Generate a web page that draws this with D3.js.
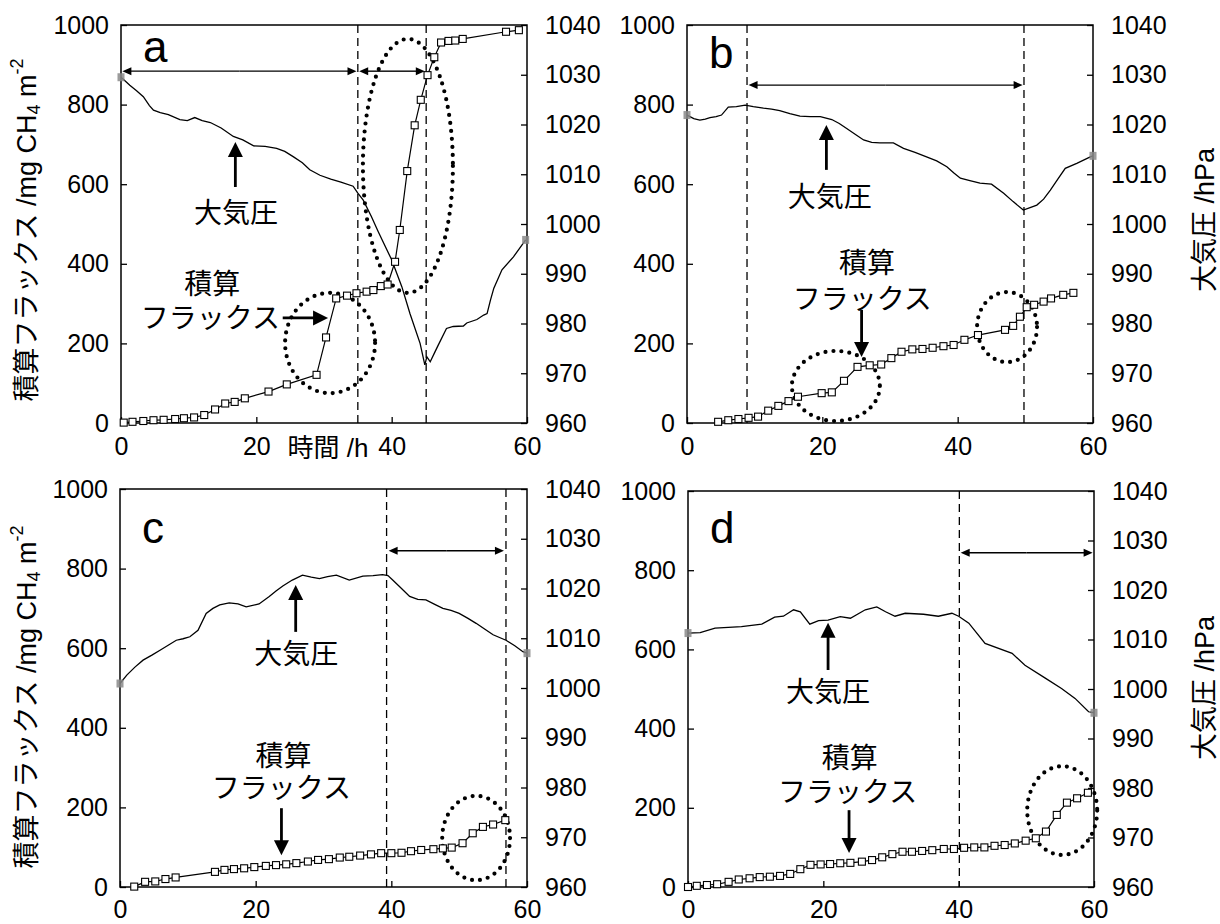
<!DOCTYPE html>
<html>
<head>
<meta charset="utf-8">
<style>
  body { margin: 0; background: #fff; }
  svg text { font-family: "Liberation Sans", Arial, "Noto Sans CJK JP", sans-serif; }
  .jp { font-family: "Noto Sans CJK JP", sans-serif; }
</style>
</head>
<body>
<script src="https://cdn.jsdelivr.net/npm/d3@7"></script>
<script>
var timeTicks = [0, 20, 40, 60];
var fluxTicks = [0, 200, 400, 600, 800, 1000];
var presTicks = [960, 970, 980, 990, 1000, 1010, 1020, 1030, 1040];

// panel a
var presTimeA = [0, 0.5, 1.3, 2.3, 3.3, 4.2, 4.8, 5.8, 7.0, 8.7, 9.8, 10.9, 12.0, 13.2, 14.8, 16.6, 18.0, 19.6, 21.3, 23.0, 24.2, 25.5, 26.8, 27.9, 29.4, 31.0, 32.5, 34.3, 35.0, 35.8, 37.0, 38.0, 40.0, 41.5, 42.7, 44.2, 44.9, 45.2, 45.7, 46.4, 46.9, 48.1, 49.1, 50.6, 51.1, 52.6, 53.6, 54.1, 54.6, 55.1, 56.3, 58.0, 59.8];
var presA = [1029.5, 1028.9, 1027.9, 1026.8, 1025.6, 1023.8, 1022.9, 1022.4, 1022.0, 1021.0, 1020.8, 1021.4, 1020.8, 1020.4, 1019.3, 1017.6, 1016.9, 1015.7, 1015.6, 1015.2, 1014.6, 1013.5, 1012.3, 1010.9, 1009.8, 1009.0, 1008.4, 1007.6, 1006.2, 1004.8, 1001.5, 998.5, 992.8, 987.4, 982.0, 976.0, 971.7, 973.3, 972.3, 974.3, 975.7, 979.0, 979.4, 979.5, 980.1, 980.8, 981.7, 982.0, 984.7, 987.1, 990.8, 993.4, 996.8];
var fluxTimeA = [0.4, 1.7, 3.3, 4.8, 6.3, 8.0, 9.3, 10.8, 12.3, 13.9, 15.4, 16.8, 18.3, 21.8, 24.5, 28.9, 30.3, 31.8, 33.4, 34.8, 36.3, 37.3, 38.4, 39.4, 40.5, 41.2, 42.3, 43.4, 44.3, 45.3, 46.3, 47.3, 48.4, 49.4, 50.5, 56.9, 58.8];
var fluxA = [1, 3, 5, 7, 8, 10, 12, 14, 20, 34, 49, 53, 62, 79, 97, 121, 215, 313, 320, 326, 330, 334, 344, 348, 405, 485, 633, 748, 812, 874, 919, 956, 960, 961, 965, 983, 987];

// panel b
var presTimeB = [0, 1.0, 1.9, 2.7, 3.4, 4.3, 5.1, 6.1, 7.3, 8.6, 9.8, 11.3, 12.5, 13.7, 15.2, 16.7, 18.2, 19.7, 21.4, 22.5, 23.6, 24.9, 26.1, 27.3, 28.5, 30.5, 32.0, 33.7, 35.4, 36.9, 38.4, 39.4, 40.4, 41.8, 43.3, 45.0, 46.8, 48.2, 49.7, 50.7, 51.7, 52.7, 53.7, 54.8, 55.9, 57.6, 59.6, 60];
var presB = [1021.9, 1021.2, 1020.9, 1021.1, 1021.4, 1021.6, 1021.9, 1023.5, 1023.6, 1023.9, 1023.6, 1023.3, 1023.1, 1022.8, 1022.2, 1021.7, 1021.6, 1021.6, 1021.0, 1020.2, 1019.2, 1018.0, 1016.9, 1016.4, 1016.3, 1016.3, 1015.2, 1014.4, 1013.5, 1012.7, 1011.5, 1010.3, 1009.2, 1008.7, 1008.2, 1008.0, 1006.2, 1004.5, 1002.8, 1003.3, 1003.8, 1005.0, 1006.8, 1009.0, 1011.2, 1012.2, 1013.5, 1013.7];
var fluxTimeB = [4.6, 6.1, 7.6, 9.1, 10.5, 12.0, 13.5, 15.0, 16.4, 19.9, 21.4, 23.2, 25.2, 27.0, 28.7, 30.2, 31.7, 33.3, 34.8, 36.3, 37.9, 39.4, 41.0, 43.0, 47.0, 48.2, 49.2, 50.2, 51.3, 52.7, 53.8, 55.6, 57.1];
var fluxB = [3, 7, 10, 13, 16, 31, 43, 55, 66, 75, 77, 106, 141, 145, 147, 163, 179, 185, 186, 189, 193, 196, 209, 221, 234, 244, 267, 291, 297, 305, 313, 322, 327];

// panel c
var presTimeC = [0, 1.0, 2.2, 3.4, 4.7, 5.9, 7.1, 8.3, 9.3, 10.3, 11.5, 12.7, 13.7, 14.7, 16.1, 17.4, 18.6, 20.5, 22.0, 23.0, 24.0, 25.4, 26.9, 28.2, 29.4, 30.6, 31.9, 33.8, 35.8, 37.3, 38.7, 39.5, 40.2, 41.5, 42.7, 43.9, 45.1, 46.4, 47.6, 48.8, 50.0, 51.3, 52.5, 53.8, 55.0, 56.9, 58.2, 59.4, 60];
var presC = [1000.9, 1002.6, 1004.2, 1005.6, 1006.6, 1007.6, 1008.6, 1009.6, 1009.9, 1010.3, 1011.6, 1015.0, 1016.0, 1016.7, 1017.1, 1016.9, 1016.3, 1016.9, 1018.4, 1019.5, 1020.5, 1021.7, 1022.7, 1022.3, 1022.0, 1022.4, 1022.7, 1021.7, 1022.5, 1022.6, 1022.8, 1022.6, 1021.7, 1020.0, 1018.4, 1017.8, 1017.7, 1016.8, 1016.0, 1015.6, 1015.0, 1014.0, 1013.0, 1011.8, 1010.7, 1009.6, 1008.5, 1007.3, 1007.0];
var fluxTimeC = [2.1, 3.7, 5.2, 6.7, 8.2, 14.0, 15.4, 16.8, 18.3, 19.8, 21.5, 23.0, 24.5, 26.0, 27.7, 29.2, 30.8, 32.4, 33.8, 35.4, 37.0, 38.5, 40.0, 41.5, 42.9, 44.4, 46.2, 47.6, 48.9, 50.5, 52.0, 53.5, 55.0, 56.8];
var fluxC = [1, 13, 14, 20, 24, 38, 43, 45, 47, 50, 53, 55, 57, 60, 64, 68, 70, 74, 76, 79, 82, 85, 85, 86, 90, 93, 95, 97, 99, 110, 135, 151, 157, 168];

// panel d
var presTimeD = [0, 1.8, 4.0, 7.9, 10.9, 12.8, 14.1, 15.6, 16.6, 18.0, 19.3, 20.7, 22.5, 24.0, 26.2, 27.9, 29.2, 30.6, 32.1, 34.8, 37.0, 39.0, 40.0, 41.5, 43.9, 47.9, 49.8, 52.8, 55.2, 57.2, 59.2, 60];
var presD = [1011.3, 1011.4, 1012.3, 1012.6, 1013.1, 1014.5, 1014.7, 1016.0, 1015.6, 1013.1, 1013.8, 1013.9, 1014.6, 1014.3, 1016.0, 1016.6, 1015.6, 1014.7, 1015.3, 1015.1, 1014.7, 1015.3, 1014.7, 1013.3, 1009.2, 1007.2, 1004.8, 1002.2, 1000.1, 998.1, 995.4, 995.2];
var fluxTimeD = [0, 1.3, 2.8, 4.3, 6.0, 7.5, 9.1, 10.6, 12.1, 13.6, 15.1, 16.6, 18.1, 19.6, 21.0, 22.5, 24.0, 25.7, 27.2, 28.7, 30.2, 31.7, 33.1, 34.6, 36.1, 37.8, 39.3, 40.8, 42.3, 43.8, 45.3, 46.8, 48.3, 49.9, 51.4, 52.9, 54.5, 56.0, 57.5, 59.1];
var fluxD = [0, 3, 5, 7, 13, 19, 22, 25, 26, 28, 33, 45, 56, 57, 58, 60, 61, 64, 68, 75, 83, 89, 89, 91, 93, 96, 96, 99, 100, 100, 104, 106, 110, 117, 123, 140, 182, 213, 224, 238];

var svg = d3.select('body').append('svg')
    .attr('width', 1220).attr('height', 924)
    .style('background', '#fff');

var panels = [
    { id: 'a', left: 121, top: 25, width: 406, height: 398, letterY: 37,
      presT: presTimeA, pres: presA, fluxT: fluxTimeA, flux: fluxA,
      dashes: [35, 45.1], spanF: 884, spans: [[0.2, 34.8], [35.2, 44.9]],
      ellipses: [{t: 42.4, F: 646, rt: 6.65, rF: 319}, {t: 30.9, F: 201, rt: 6.65, rF: 126}],
      presLabel: {t: 17.0, F: 533}, presArrow: [16.9, 593, 16.9, 706],
      fluxLabel1: {t: 13.5, F: 354}, fluxLabel2: {t: 13.2, F: 268}, fluxArrow: [23.9, 264, 30.6, 264] },
    { id: 'b', left: 687, top: 25, width: 406, height: 398, letterY: 43,
      presT: presTimeB, pres: presB, fluxT: fluxTimeB, flux: fluxB,
      dashes: [8.87, 49.8], spanF: 849, spans: [[9.1, 49.6]],
      ellipses: [{t: 22.0, F: 93, rt: 6.5, rF: 88}, {t: 47.3, F: 241, rt: 4.43, rF: 88}],
      presLabel: {t: 21.1, F: 573}, presArrow: [20.6, 636, 20.6, 749],
      fluxLabel1: {t: 26.6, F: 407}, fluxLabel2: {t: 25.9, F: 316}, fluxArrow: [25.8, 284, 25.8, 166] },
    { id: 'c', left: 120, top: 489, width: 407, height: 398, letterY: 54,
      presT: presTimeC, pres: presC, fluxT: fluxTimeC, flux: fluxC,
      dashes: [39.3, 56.9], spanF: 845, spans: [[39.6, 56.6]],
      ellipses: [{t: 52.5, F: 123, rt: 5.0, rF: 106}],
      presLabel: {t: 26.0, F: 590}, presArrow: [25.9, 641, 25.9, 759],
      fluxLabel1: {t: 24.1, F: 334}, fluxLabel2: {t: 23.8, F: 255}, fluxArrow: [23.8, 198, 23.8, 80] },
    { id: 'd', left: 688, top: 491, width: 406, height: 396, letterY: 52,
      presT: presTimeD, pres: presD, fluxT: fluxTimeD, flux: fluxD,
      dashes: [40.1], spanF: 844, spans: [[40.3, 59.8]],
      ellipses: [{t: 55.3, F: 193, rt: 5.17, rF: 112}],
      presLabel: {t: 20.7, F: 497}, presArrow: [20.7, 548, 20.7, 667],
      fluxLabel1: {t: 23.9, F: 330}, fluxLabel2: {t: 23.6, F: 246}, fluxArrow: [23.8, 194, 23.8, 86] }
];

function arrow(g, x1, y1, x2, y2, headLen, headW, sw) {
    var dx = x2 - x1, dy = y2 - y1, len = Math.sqrt(dx * dx + dy * dy);
    var ux = dx / len, uy = dy / len;
    var bx = x2 - ux * headLen, by = y2 - uy * headLen;
    g.append('line')
        .attr('x1', x1).attr('y1', y1).attr('x2', bx + ux).attr('y2', by + uy)
        .attr('stroke', '#000').attr('stroke-width', sw);
    g.append('path')
        .attr('d', 'M' + x2 + ',' + y2 +
                   'L' + (bx - uy * headW / 2) + ',' + (by + ux * headW / 2) +
                   'L' + (bx + uy * headW / 2) + ',' + (by - ux * headW / 2) + 'Z')
        .attr('fill', '#000');
}

function drawPanel(p) {
    var bottom = p.top + p.height, right = p.left + p.width;
    var x = d3.scaleLinear().domain([0, 60]).range([p.left, right]);
    var yF = d3.scaleLinear().domain([0, 1000]).range([bottom, p.top]);
    var yP = d3.scaleLinear().domain([960, 1040]).range([bottom, p.top]);
    var g = svg.append('g');
    var fmt = d3.format('d');

    // axes, ticks pointing inward
    var axes = [
        { axis: d3.axisBottom(x).tickValues(timeTicks).tickPadding(p.top < 100 ? 14 : 13), tr: [0, bottom] },
        { axis: d3.axisLeft(yF).tickValues(fluxTicks).tickPadding(12), tr: [p.left, 0] },
        { axis: d3.axisRight(yP).tickValues(presTicks).tickPadding(18), tr: [right, 0] }
    ];
    axes.forEach(function (a) {
        var ag = g.append('g')
            .attr('transform', 'translate(' + a.tr[0] + ',' + a.tr[1] + ')')
            .call(a.axis.tickFormat(fmt).tickSizeInner(-6).tickSizeOuter(0))
            .attr('font-size', 25)
            .attr('font-family', '"Liberation Sans", Arial, sans-serif');
        ag.select('.domain').remove();
        ag.selectAll('.tick line').attr('stroke-width', 1.3);
    });

    g.append('rect')
        .attr('x', p.left).attr('y', p.top).attr('width', p.width).attr('height', p.height)
        .attr('fill', 'none').attr('stroke', '#000').attr('stroke-width', 1.5);

    // dashed period boundaries
    g.selectAll('line.dash').data(p.dashes).enter().append('line')
        .attr('class', 'dash')
        .attr('x1', function (d) { return x(d); }).attr('x2', function (d) { return x(d); })
        .attr('y1', p.top).attr('y2', bottom)
        .attr('stroke', '#000').attr('stroke-width', 1.3).attr('stroke-dasharray', '8,5');

    // double arrows
    p.spans.forEach(function (s) {
        var mid = (x(s[0]) + x(s[1])) / 2, yy = yF(p.spanF);
        arrow(g, mid, yy, x(s[1]), yy, 9, 8, 1.4);
        arrow(g, mid, yy, x(s[0]), yy, 9, 8, 1.4);
    });

    // dotted ellipses
    g.selectAll('ellipse').data(p.ellipses).enter().append('ellipse')
        .attr('cx', function (d) { return x(d.t); })
        .attr('cy', function (d) { return yF(d.F); })
        .attr('rx', function (d) { return x(d.rt) - x(0); })
        .attr('ry', function (d) { return yF(0) - yF(d.rF); })
        .attr('fill', 'none').attr('stroke', '#000').attr('stroke-width', 4.2)
        .attr('stroke-linecap', 'round').attr('stroke-dasharray', '0,8');

    // atmospheric pressure
    var presPts = p.presT.map(function (t, i) { return [t, p.pres[i]]; });
    g.append('path')
        .datum(presPts)
        .attr('d', d3.line().x(function (d) { return x(d[0]); }).y(function (d) { return yP(d[1]); }))
        .attr('fill', 'none').attr('stroke', '#000').attr('stroke-width', 1.3);
    g.selectAll('rect.end').data([presPts[0], presPts[presPts.length - 1]]).enter().append('rect')
        .attr('class', 'end')
        .attr('x', function (d) { return x(d[0]) - 3.5; })
        .attr('y', function (d) { return yP(d[1]) - 4; })
        .attr('width', 7).attr('height', 8)
        .attr('fill', '#8a8a8a').attr('opacity', 0.85);

    // cumulative flux
    var fluxPts = p.fluxT.map(function (t, i) { return [t, p.flux[i]]; });
    g.append('path')
        .datum(fluxPts)
        .attr('d', d3.line().x(function (d) { return x(d[0]); }).y(function (d) { return yF(d[1]); }))
        .attr('fill', 'none').attr('stroke', '#000').attr('stroke-width', 1.2);
    g.selectAll('rect.sq').data(fluxPts).enter().append('rect')
        .attr('class', 'sq')
        .attr('x', function (d) { return x(d[0]) - 3.5; })
        .attr('y', function (d) { return yF(d[1]) - 3.5; })
        .attr('width', 7).attr('height', 7)
        .attr('fill', '#fff').attr('stroke', '#000').attr('stroke-width', 1.1);

    // panel letter
    g.append('text')
        .attr('x', p.left + 22).attr('y', p.top + p.letterY)
        .attr('font-size', 44).text(p.id);

    // annotations
    g.append('text').attr('class', 'jp')
        .attr('x', x(p.presLabel.t)).attr('y', yF(p.presLabel.F))
        .attr('text-anchor', 'middle').attr('dominant-baseline', 'central')
        .attr('font-size', 28).text('大気圧');
    var ft = g.append('text').attr('class', 'jp')
        .attr('text-anchor', 'middle').attr('dominant-baseline', 'central')
        .attr('font-size', 28);
    ft.append('tspan').attr('x', x(p.fluxLabel1.t)).attr('y', yF(p.fluxLabel1.F)).text('積算');
    ft.append('tspan').attr('x', x(p.fluxLabel2.t)).attr('y', yF(p.fluxLabel2.F)).text('フラックス');
    [p.presArrow, p.fluxArrow].forEach(function (a) {
        arrow(g, x(a[0]), yF(a[1]), x(a[2]), yF(a[3]), 15, 15, 2.8);
    });
}

panels.forEach(drawPanel);

// axis titles
[230, 697].forEach(function (cy) {
    var lab = svg.append('text')
        .attr('transform', 'translate(27,' + cy + ') rotate(-90)')
        .attr('text-anchor', 'middle').attr('dominant-baseline', 'central')
        .attr('font-size', 27);
    lab.append('tspan').text('積算フラックス /mg CH');
    lab.append('tspan').attr('font-size', 18).attr('dy', 7).text('4');
    lab.append('tspan').attr('dy', -7).text(' m');
    lab.append('tspan').attr('font-size', 18).attr('dy', -10).text('-2');
});
[220, 688].forEach(function (cy) {
    svg.append('text')
        .attr('transform', 'translate(1205,' + cy + ') rotate(-90)')
        .attr('text-anchor', 'middle').attr('dominant-baseline', 'central')
        .attr('font-size', 27)
        .text('大気圧 /hPa');
});
svg.append('text')
    .attr('x', 328).attr('y', 457)
    .attr('text-anchor', 'middle')
    .attr('font-size', 26)
    .text('時間 /h');
</script>
</body>
</html>
